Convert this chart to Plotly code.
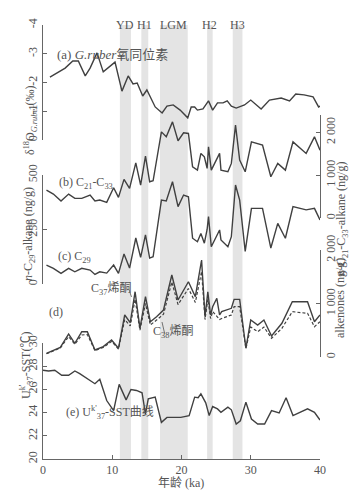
import plotly.graph_objects as go

# ---- data (age in ka) ----
d18o_age = [1.0, 3.2, 4.3, 5.1, 6.1, 6.8, 7.8, 8.7, 10.4, 11.4, 12.3, 13.0, 13.6, 14.4, 15.0,
            16.2, 17.2, 17.9, 18.8, 19.8, 20.9, 21.4, 21.9, 22.3, 23.1, 23.9, 24.5, 25.2, 26.0,
            26.6, 27.2, 27.9, 29.1, 30.0, 31.5, 32.7, 34.4, 35.6, 36.5, 37.7, 39.0, 39.8, 40.0]
d18o = [-2.19, -2.5, -2.75, -2.75, -2.23, -2.5, -3.03, -2.37, -2.71, -1.7, -2.23, -1.95, -1.98, -1.53, -1.74,
        -1.15, -0.94, -1.18, -1.22, -1.04, -0.77, -1.15, -1.15, -1.04, -1.08, -1.36, -1.04, -1.29, -1.29,
        -1.36, -1.18, -1.11, -1.22, -1.39, -1.08, -1.39, -1.46, -1.36, -1.6, -1.57, -1.5, -1.15, -1.18]

alk_age = [0.5, 1.5, 2.6, 3.7, 4.6, 5.6, 6.8, 7.5, 8.2, 9.2, 10.2, 10.9, 11.7, 12.5, 13.4, 14.1, 14.8,
           15.4, 15.9, 17.1, 17.8, 18.7, 19.5, 20.3, 21.0, 21.6, 22.3, 22.8, 23.3, 23.7, 23.9, 24.3,
           25.5, 25.7, 26.7, 27.2, 27.8, 28.4, 29.2, 30.1, 31.7, 32.9, 33.9, 35.0, 36.1, 38.0, 39.2, 40.0]
c21_c33 = [651, 558, 395, 558, 458, 458, 535, 395, 419, 365, 705, 481, 900, 690, 1286, 767, 1442,
           844, 867, 2007, 1891, 2240, 1800, 1984, 1970, 1193, 1116, 1505, 1426, 1156, 1658, 1116,
           1505, 1116, 1077, 1272, 2163, 1349, 1077, 1774, 1698, 960, 1272, 1116, 1774, 1505, 1891, 1581]
c29 = [87, 72, 49, 72, 56, 72, 64, 44, 56, 50, 87, 49, 138, 73, 211, 122, 225,
       119, 125, 385, 381, 469, 355, 408, 400, 210, 194, 232, 187, 250, 309, 171,
       248, 202, 171, 217, 454, 385, 150, 347, 347, 165, 278, 210, 355, 340, 347, 294]

ket_age = [0.5, 1.5, 2.5, 3.7, 4.6, 5.6, 6.4, 7.5, 8.7, 9.9, 10.9, 11.8, 12.6, 13.3, 14.0, 14.8,
           15.5, 16.4, 17.4, 18.6, 19.5, 21.0, 22.0, 22.9, 23.4, 23.8, 24.2, 24.5, 25.1, 25.5,
           25.8, 27.2, 27.6, 28.4, 29.3, 30.0, 31.0, 31.9, 33.0, 34.5, 36.0, 38.2, 39.2, 40.0]
c37 = [69, 131, 181, 430, 256, 473, 473, 131, 193, 318, 163, 785, 641, 1220, 536, 1127,
       660, 753, 878, 1533, 1065, 1407, 1127, 1813, 753, 1220, 785, 940, 1097, 785,
       850, 910, 1078, 1078, 163, 692, 598, 692, 392, 630, 1034, 1034, 660, 785]
c38 = [60, 120, 170, 380, 240, 411, 420, 120, 180, 290, 150, 700, 580, 1080, 500, 1000,
       600, 690, 800, 1400, 980, 1280, 1020, 1600, 700, 1080, 720, 850, 753, 700,
       720, 785, 940, 940, 160, 560, 473, 560, 350, 536, 847, 817, 566, 660]

sst_age = [0.0, 0.8, 1.7, 2.7, 3.7, 4.6, 5.3, 7.5, 8.2, 9.2, 10.2, 11.0, 12.0, 12.7, 13.5, 14.3,
           14.8, 15.2, 16.2, 17.1, 17.9, 19.9, 21.1, 21.9, 22.4, 22.8, 23.5, 24.0, 24.5, 25.2,
           25.7, 26.7, 27.2, 27.9, 28.5, 29.3, 30.1, 31.0, 32.0, 33.0, 34.1, 35.1, 36.1, 38.2, 39.2, 40.0]
sst = [27.65, 27.59, 27.65, 27.22, 27.22, 27.59, 27.36, 26.49, 26.87, 25.04, 24.17, 26.43, 25.1, 25.99,
       25.91, 25.71, 23.88, 25.19, 25.33, 23.16, 23.59, 23.59, 23.74, 25.33, 25.28, 25.62, 24.84, 23.74,
       24.52, 24.32, 24.03, 24.47, 24.24, 23.02, 23.3, 24.9, 23.45, 23.02, 23.02, 24.17, 23.97, 25.28,
       23.74, 24.32, 24.03, 23.36]

band_names = ["YD", "H1", "LGM", "H2", "H3"]
band_start = [11.1, 14.2, 16.9, 23.7, 27.4]
band_end = [12.7, 15.2, 20.9, 24.5, 28.8]

x_ticks = [0, 10, 20, 30, 40]
d18o_ticks = [-4, -3, -2, -1, 0]
d18o_ticktext = ["-4", "-3", "-2", "-1", "0"]
c29_ticks = [0, 250, 500]
ng_ticks = [0, 1000, 2000]
ng_ticktext = ["0", "1 000", "2 000"]
sst_ticks = [20, 22, 24, 26, 28, 30]

# ---- layout helpers (pixel -> paper) ----
L, R, T, B = 43, 42, 22, 41
H = 500 - T - B
W = 362 - L - R


def py(p):
    return (500 - B - p) / H


def px(p):
    return (p - L) / W


GREY = "#555555"
LINE = "#404040"
FONT = "Liberation Serif, Noto Sans CJK SC, serif"

fig = go.Figure()

fig.add_trace(go.Scatter(x=d18o_age, y=d18o, yaxis="y5", mode="lines",
                         line=dict(color=LINE, width=1.4), showlegend=False))
fig.add_trace(go.Scatter(x=alk_age, y=c21_c33, yaxis="y4", mode="lines",
                         line=dict(color=LINE, width=1.4), showlegend=False))
fig.add_trace(go.Scatter(x=alk_age, y=c29, yaxis="y3", mode="lines",
                         line=dict(color=LINE, width=1.4), showlegend=False))
fig.add_trace(go.Scatter(x=ket_age, y=c38, yaxis="y2", mode="lines",
                         line=dict(color=LINE, width=1.2, dash="3px,2px"), showlegend=False))
fig.add_trace(go.Scatter(x=ket_age, y=c37, yaxis="y2", mode="lines",
                         line=dict(color=LINE, width=1.4), showlegend=False))
fig.add_trace(go.Scatter(x=sst_age, y=sst, yaxis="y", mode="lines",
                         line=dict(color=LINE, width=1.4), showlegend=False))

# shaded event bands
for s, e in zip(band_start, band_end):
    fig.add_shape(type="rect", xref="x", yref="paper", x0=s, x1=e, y0=0, y1=py(25),
                  fillcolor="#e4e4e4", line_width=0, layer="below")
for name, s, e in zip(band_names, band_start, band_end):
    fig.add_annotation(x=(s + e) / 2, y=py(16), xref="x", yref="paper", text=name,
                       showarrow=False, font=dict(size=12, color=GREY))

axis_common = dict(showgrid=False, zeroline=False, showline=True, linecolor="#666666",
                   linewidth=1, ticks="inside", ticklen=4, tickcolor="#666666",
                   tickangle=-90, tickfont=dict(size=12, color=GREY), automargin=False)

fig.update_layout(
    width=362, height=500,
    margin=dict(l=L, r=R, t=T, b=B),
    paper_bgcolor="white", plot_bgcolor="rgba(0,0,0,0)",
    font=dict(family=FONT, color=GREY),
    xaxis=dict(range=[0, 40], tickvals=x_ticks, showgrid=False, zeroline=False,
               showline=True, linecolor="#666666", ticks="inside", ticklen=4,
               tickcolor="#666666", tickfont=dict(size=12, color=GREY), anchor="y",
               automargin=False),
    yaxis=dict(domain=[0, py(343)], range=[20, 30], tickvals=sst_ticks, anchor="x",
               **axis_common),
    yaxis2=dict(domain=[py(357), py(250)], range=[0, 2000], tickvals=ng_ticks,
                ticktext=ng_ticktext, anchor="x", side="right", **axis_common),
    yaxis3=dict(domain=[py(284), py(175)], range=[0, 500], tickvals=c29_ticks, anchor="x",
                **axis_common),
    yaxis4=dict(domain=[py(218), py(115)], range=[0, 2400], tickvals=ng_ticks,
                ticktext=ng_ticktext, anchor="x", side="right", **axis_common),
    yaxis5=dict(domain=[py(140), py(25)], range=[0, -4], tickvals=d18o_ticks,
                ticktext=d18o_ticktext, anchor="x", **axis_common),
)

# axis titles
titles = [
    (20, 84, "δ<sup>18</sup>O<sub><i>G.ruber</i></sub>(‰)"),
    (19, 234, "<i>n</i>-C<sub>29</sub>-alkane (ng/g)"),
    (16, 401, "U<sup>k'</sup><sub>37</sub>-SST(℃)"),
    (352, 160, "<i>n</i>-C<sub>21</sub>-C<sub>33</sub>-alkane (ng/g)"),
    (349, 298, "alkenones (ng/g)"),
]
for x, y, t in titles:
    fig.add_annotation(x=px(x), y=py(y), xref="paper", yref="paper", text=t,
                       textangle=-90, showarrow=False, font=dict(size=12, color=GREY))
fig.add_annotation(x=px(181), y=py(491), xref="paper", yref="paper", text="年龄 (ka)",
                   showarrow=False, borderpad=0, font=dict(size=12, color=GREY))

labels = [
    (56, 46, "(a) <i>G.ruber</i>氧同位素", 13),
    (58, 183, "(b) C<sub>21</sub>-C<sub>33</sub>", 12),
    (57, 257, "(c) C<sub>29</sub>", 12),
    (48, 320, "(d)", 12),
    (90, 289, "C<sub>37</sub>烯酮", 12),
    (152, 341, "C<sub>38</sub>烯酮", 12),
    (65, 422, "(e) U<sup>k'</sup><sub>37</sub>-SST曲线", 12),
]
for x, y, t, s in labels:
    fig.add_annotation(x=px(x), y=py(y), xref="paper", yref="paper", text=t, showarrow=False,
                       xanchor="left", borderpad=0, font=dict(size=s, color=GREY))

# leader lines from the alkenone labels to their curves
for x, y, ax, ay in [(131.5, 297, -3, -9), (162, 322, 3, 13)]:
    fig.add_annotation(x=px(x), y=py(y), xref="paper", yref="paper", text="",
                       showarrow=True, arrowhead=0, arrowwidth=0.8, arrowcolor=GREY,
                       ax=ax, ay=ay, standoff=0, startstandoff=0)

# the page body has a default 8px margin; remove it so the figure sits at the window origin
fig.write_html("out.html", config={"displayModeBar": False},
               post_script="document.body.style.margin='0';")
